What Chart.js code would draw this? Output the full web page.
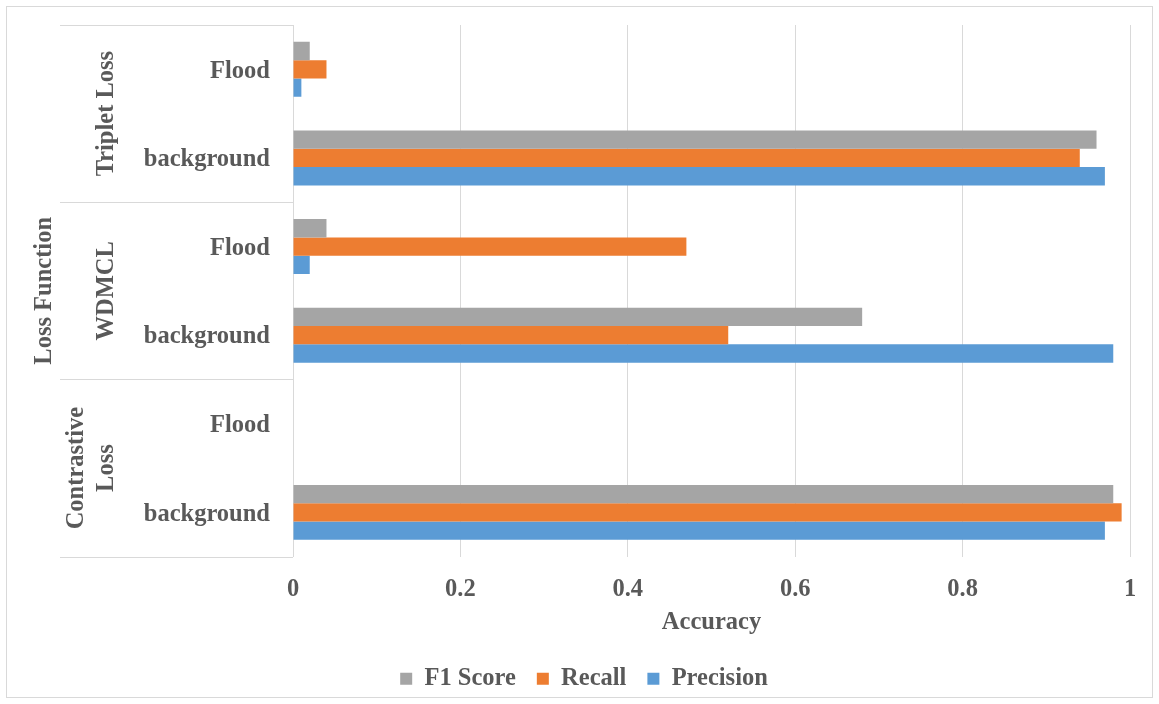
<!DOCTYPE html>
<html>
<head>
<meta charset="utf-8">
<script src="https://cdn.jsdelivr.net/npm/chart.js@4/dist/chart.umd.min.js"></script>
<style>
  html, body { margin: 0; padding: 0; background: #ffffff; }
  #wrap { width: 1159px; height: 704px; }
</style>
</head>
<body>
<div id="wrap"><canvas id="chart" width="1159" height="704"></canvas></div>
<script>
// Categories, top to bottom
const categories = ['Flood', 'background', 'Flood', 'background', 'Flood', 'background'];
// Loss-function groups; each spans two categories
const groups = [['Triplet Loss'], ['WDMCL'], ['Contrastive', 'Loss']];
const groupSize = 2;

// Series values
const f1Score   = [0.02, 0.96, 0.04, 0.68, 0, 0.98];
const recall    = [0.04, 0.94, 0.47, 0.52, 0, 0.99];
const precision = [0.01, 0.97, 0.02, 0.98, 0, 0.97];

const seriesNames = ['F1 Score', 'Recall', 'Precision'];
const seriesColors = ['#a5a5a5', '#ed7d31', '#5b9bd5'];

const axisMin = 0, axisMax = 1, axisStep = 0.2;

const FONT = '"Liberation Serif", "Times New Roman", serif';
const FS = 24.5;
const TEXT = '#595959';
const LINE = '#d9d9d9';

// Outer frame, group separators and rotated group / axis titles
const groupAxis = {
  id: 'groupAxis',
  beforeDraw(chart) {
    const ctx = chart.ctx;
    ctx.save();
    ctx.strokeStyle = LINE;
    ctx.lineWidth = 1;
    ctx.strokeRect(6.5, 6.5, chart.width - 13, chart.height - 13);
    ctx.restore();
  },
  afterDraw(chart) {
    const ctx = chart.ctx;
    const y = chart.scales.y;
    const area = chart.chartArea;
    const left = 60;
    ctx.save();
    ctx.strokeStyle = LINE;
    ctx.lineWidth = 1;
    const bounds = [area.top];
    for (let g = 1; g < groups.length; g++) {
      const i = g * groupSize;
      bounds.push((y.getPixelForTick(i - 1) + y.getPixelForTick(i)) / 2);
    }
    bounds.push(area.bottom);
    bounds.forEach(b => {
      const yy = Math.round(b) + 0.5;
      ctx.beginPath();
      ctx.moveTo(left, yy);
      ctx.lineTo(area.left, yy);
      ctx.stroke();
    });

    ctx.fillStyle = TEXT;
    ctx.font = 'bold ' + FS + 'px ' + FONT;
    ctx.textAlign = 'center';
    ctx.textBaseline = 'middle';
    const lastLineX = 107;
    const lh = 30;
    groups.forEach((lines, g) => {
      const cy = (bounds[g] + bounds[g + 1]) / 2;
      ctx.save();
      ctx.translate(lastLineX, cy);
      ctx.rotate(-Math.PI / 2);
      lines.forEach((t, k) => {
        ctx.fillText(t, 0, (k - (lines.length - 1)) * lh);
      });
      ctx.restore();
    });

    // Axis title for the grouped category axis
    ctx.save();
    ctx.translate(45, (area.top + area.bottom) / 2);
    ctx.rotate(-Math.PI / 2);
    ctx.fillText('Loss Function', 0, 0);
    ctx.restore();
    ctx.restore();
  }
};

const datasets = seriesNames.map((name, i) => ({
  label: name,
  data: [f1Score, recall, precision][i],
  backgroundColor: seriesColors[i],
  borderWidth: 0,
  categoryPercentage: 0.62,
  barPercentage: 1.0
}));

new Chart(document.getElementById('chart'), {
  type: 'bar',
  data: { labels: categories, datasets },
  plugins: [groupAxis],
  options: {
    indexAxis: 'y',
    responsive: false,
    animation: false,
    layout: { padding: { top: 25, right: 29, left: 38, bottom: 3 } },
    scales: {
      x: {
        min: axisMin,
        max: axisMax,
        ticks: {
          stepSize: axisStep,
          color: TEXT,
          font: { family: FONT, size: FS, weight: 'bold' },
          padding: 18,
          callback: v => String(Math.round(v * 10) / 10)
        },
        grid: { color: LINE, drawTicks: false },
        border: { display: false },
        title: {
          display: true,
          text: 'Accuracy',
          color: TEXT,
          font: { family: FONT, size: FS, weight: 'bold' },
          padding: { top: -14, bottom: 8 }
        }
      },
      y: {
        ticks: {
          color: TEXT,
          font: { family: FONT, size: FS, weight: 'bold' },
          padding: 23,
          labelOffset: 2
        },
        grid: { display: false, drawTicks: false },
        border: { display: true, color: LINE },
        afterFit(scale) {
          scale.width = 255;
          scale.paddingTop = 0;
          scale.paddingBottom = 0;
        }
      }
    },
    plugins: {
      legend: {
        position: 'bottom',
        labels: {
          boxWidth: 12,
          boxHeight: 12,
          padding: 21,
          color: TEXT,
          font: { family: FONT, size: FS, weight: 'bold' }
        }
      },
      tooltip: { enabled: false }
    }
  }
});
</script>
</body>
</html>
